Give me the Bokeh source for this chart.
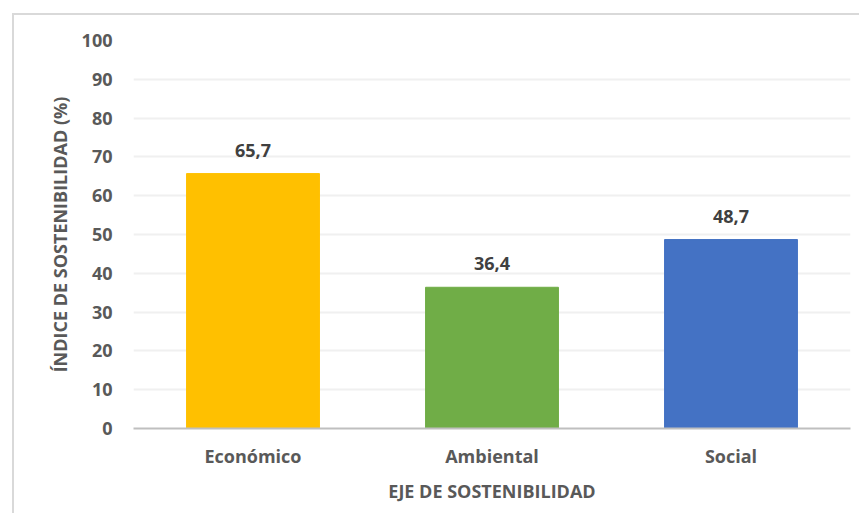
from bokeh.plotting import figure
from bokeh.models import ColumnDataSource, LabelSet, FixedTicker, Range1d
from bokeh.core.properties import value
from bokeh.embed import file_html
from bokeh.resources import INLINE

categories = ["Económico", "Ambiental", "Social"]
values = [65.7, 36.4, 48.7]
labels = ["65,7", "36,4", "48,7"]
colors = ["#FFC000", "#70AD47", "#4472C4"]
y_ticks = [0, 10, 20, 30, 40, 50, 60, 70, 80, 90, 100]

FONT = "Open Sans"

src = ColumnDataSource(dict(cat=categories, val=values, lab=labels, col=colors))

p = figure(x_range=categories, y_range=Range1d(0, 100), width=847, height=500,
           output_backend="svg", toolbar_location=None,
           min_border_left=119, min_border_right=11, min_border_top=25, min_border_bottom=87)
p.outline_line_color = None
p.styles = {"margin-left": "12px", "margin-top": "13px",
            "border-left": "2px solid #d9d9d9", "border-top": "2px solid #d9d9d9"}

p.vbar(x="cat", top="val", width=0.556, color="col", source=src)

p.add_layout(LabelSet(x="cat", y="val", text="lab", source=src, y_offset=17,
                      text_align="center", text_baseline="alphabetic",
                      text_font=value(FONT), text_font_style="bold", text_font_size="18px",
                      text_color="#404040"))

p.yaxis.ticker = FixedTicker(ticks=y_ticks)
p.yaxis.axis_line_color = None
p.yaxis.major_tick_line_color = None
p.yaxis.minor_tick_line_color = None
p.yaxis.major_tick_out = 0
p.yaxis.major_tick_in = 0
p.yaxis.minor_tick_out = 0
p.yaxis.major_label_standoff = 21
p.yaxis.major_label_text_font = FONT
p.yaxis.major_label_text_font_style = "bold"
p.yaxis.major_label_text_font_size = "18px"
p.yaxis.major_label_text_color = "#595959"
p.yaxis.axis_label = "ÍNDICE DE SOSTENIBILIDAD (%)"
p.yaxis.axis_label_text_font = FONT
p.yaxis.axis_label_text_font_style = "bold"
p.yaxis.axis_label_text_font_size = "18px"
p.yaxis.axis_label_text_color = "#595959"
p.yaxis.axis_label_standoff = 7

p.xaxis.axis_line_color = "#bfbfbf"
p.xaxis.axis_line_width = 2
p.xaxis.major_tick_line_color = None
p.xaxis.minor_tick_line_color = None
p.xaxis.major_tick_out = 0
p.xaxis.major_tick_in = 0
p.xaxis.minor_tick_out = 0
p.xaxis.major_label_standoff = 15
p.xaxis.major_label_text_font = FONT
p.xaxis.major_label_text_font_style = "bold"
p.xaxis.major_label_text_font_size = "18px"
p.xaxis.major_label_text_color = "#595959"
p.xaxis.axis_label = "EJE DE SOSTENIBILIDAD"
p.xaxis.axis_label_text_font = FONT
p.xaxis.axis_label_text_font_style = "bold"
p.xaxis.axis_label_text_font_size = "18px"
p.xaxis.axis_label_text_color = "#595959"
p.xaxis.axis_label_standoff = 8

p.xgrid.grid_line_color = None
p.ygrid.grid_line_color = "#f0f0f0"
p.ygrid.grid_line_width = 2

open("out.html", "w").write(file_html(p, INLINE))
